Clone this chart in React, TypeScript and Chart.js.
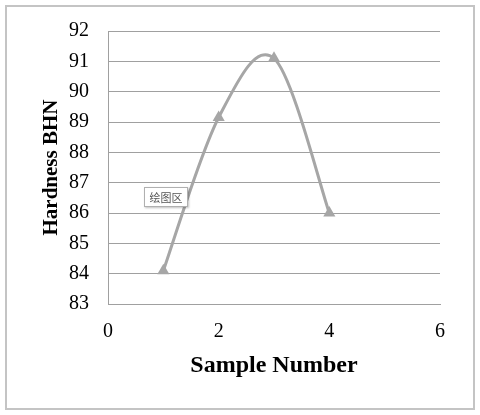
import React, { useEffect, useRef } from "react";
import { Chart, registerables } from "chart.js";

Chart.register(...registerables);

const sampleNumbers = [1, 2, 3, 4];
const hardnessValues = [84.1, 89.15, 91.1, 86.0];
const xTicks = [0, 2, 4, 6];
const yTicks = [83, 84, 85, 86, 87, 88, 89, 90, 91, 92];
const xTitle = "Sample Number";
const yTitle = "Hardness BHN";
const plotAreaLabel = "绘图区";

// Excel-like (Catmull-Rom) smoothing of the line's Bezier control points,
// computed from the pixel positions the library gives each point.
const excelSmooth = {
  id: "excelSmooth",
  beforeDatasetDraw(chart: any, args: any) {
    const meta = chart.getDatasetMeta(args.index);
    const line = meta.dataset;
    if (!line) return;
    line.updateControlPoints(chart.chartArea, "x");
    const pts = meta.data;
    const n = pts.length;
    const k = 1 / 6;
    for (let i = 0; i < n; i++) {
      const p = pts[i];
      const prev = pts[Math.max(0, i - 1)];
      const next = pts[Math.min(n - 1, i + 1)];
      const dx = (next.x - prev.x) * k;
      const dy = (next.y - prev.y) * k;
      p.cp1x = p.x - dx;
      p.cp1y = p.y - dy;
      p.cp2x = p.x + dx;
      p.cp2y = p.y + dy;
    }
  },
};

export default function App() {
  const canvasRef = useRef<HTMLCanvasElement | null>(null);

  useEffect(() => {
    const canvas = canvasRef.current;
    if (!canvas) return;
    const points = sampleNumbers.map((x, i) => ({ x, y: hardnessValues[i] }));
    const chart = new Chart(canvas, {
      type: "scatter",
      data: {
        datasets: [
          {
            data: points,
            showLine: true,
            tension: 0.4,
            borderColor: "#a6a6a6",
            backgroundColor: "#a6a6a6",
            borderWidth: 3,
            pointStyle: "triangle",
            pointRadius: 7,
            pointBorderWidth: 0,
            pointBackgroundColor: "#a6a6a6",
          },
        ],
      },
      plugins: [excelSmooth],
      options: {
        animation: false,
        responsive: false,
        maintainAspectRatio: false,
        layout: { padding: { top: 31, right: 40, left: 0, bottom: 0 } },
        plugins: { legend: { display: false }, tooltip: { enabled: false } },
        scales: {
          x: {
            type: "linear",
            min: 0,
            max: 6,
            afterBuildTicks: (scale: any) => {
              scale.ticks = xTicks.map((v) => ({ value: v }));
            },
            afterFit: (scale: any) => {
              scale.height = 111;
            },
            grid: { display: false, drawTicks: false },
            border: { display: true, color: "#a0a0a0", width: 1 },
            ticks: {
              padding: 16,
              color: "#000",
              font: { family: "'Liberation Serif', 'Times New Roman', serif", size: 20 },
            },
            title: {
              display: true,
              text: xTitle,
              color: "#000",
              font: { family: "'Liberation Serif', 'Times New Roman', serif", size: 24, weight: "bold" },
              padding: { top: 0, bottom: 35 },
            },
          },
          y: {
            type: "linear",
            min: 83,
            max: 92,
            afterBuildTicks: (scale: any) => {
              scale.ticks = yTicks.map((v) => ({ value: v }));
            },
            afterFit: (scale: any) => {
              scale.width = 108;
            },
            grid: { display: true, color: "#a0a0a0", lineWidth: 1, drawTicks: false },
            border: { display: true, color: "#a0a0a0", width: 1 },
            ticks: {
              padding: 19,
              color: "#000",
              font: { family: "'Liberation Serif', 'Times New Roman', serif", size: 20 },
            },
            title: {
              display: true,
              text: yTitle,
              color: "#000",
              font: { family: "'Liberation Serif', 'Times New Roman', serif", size: 21, weight: "bold" },
              padding: { top: 39, bottom: 0 },
            },
          },
        },
      },
    });
    return () => chart.destroy();
  }, []);

  return (
    <div style={{ position: "fixed", left: 0, top: 0, width: 480, height: 415, background: "#fff" }}>
      <div
        style={{
          position: "absolute",
          left: 5,
          top: 5,
          width: 466,
          height: 401,
          border: "2px solid #c4c4c4",
        }}
      />
      <canvas ref={canvasRef} width={480} height={415} style={{ position: "absolute", left: 0, top: 0 }} />
      <div
        style={{
          position: "absolute",
          left: 144,
          top: 187,
          width: 42,
          height: 18,
          border: "1px solid #b0b0b0",
          background: "#fff",
          boxShadow: "1px 1px 2px rgba(0,0,0,0.25)",
          fontFamily: "'Noto Sans CJK SC', sans-serif",
          fontSize: 11,
          color: "#555",
          lineHeight: "18px",
          textAlign: "center",
        }}
      >
        {plotAreaLabel}
      </div>
    </div>
  );
}
